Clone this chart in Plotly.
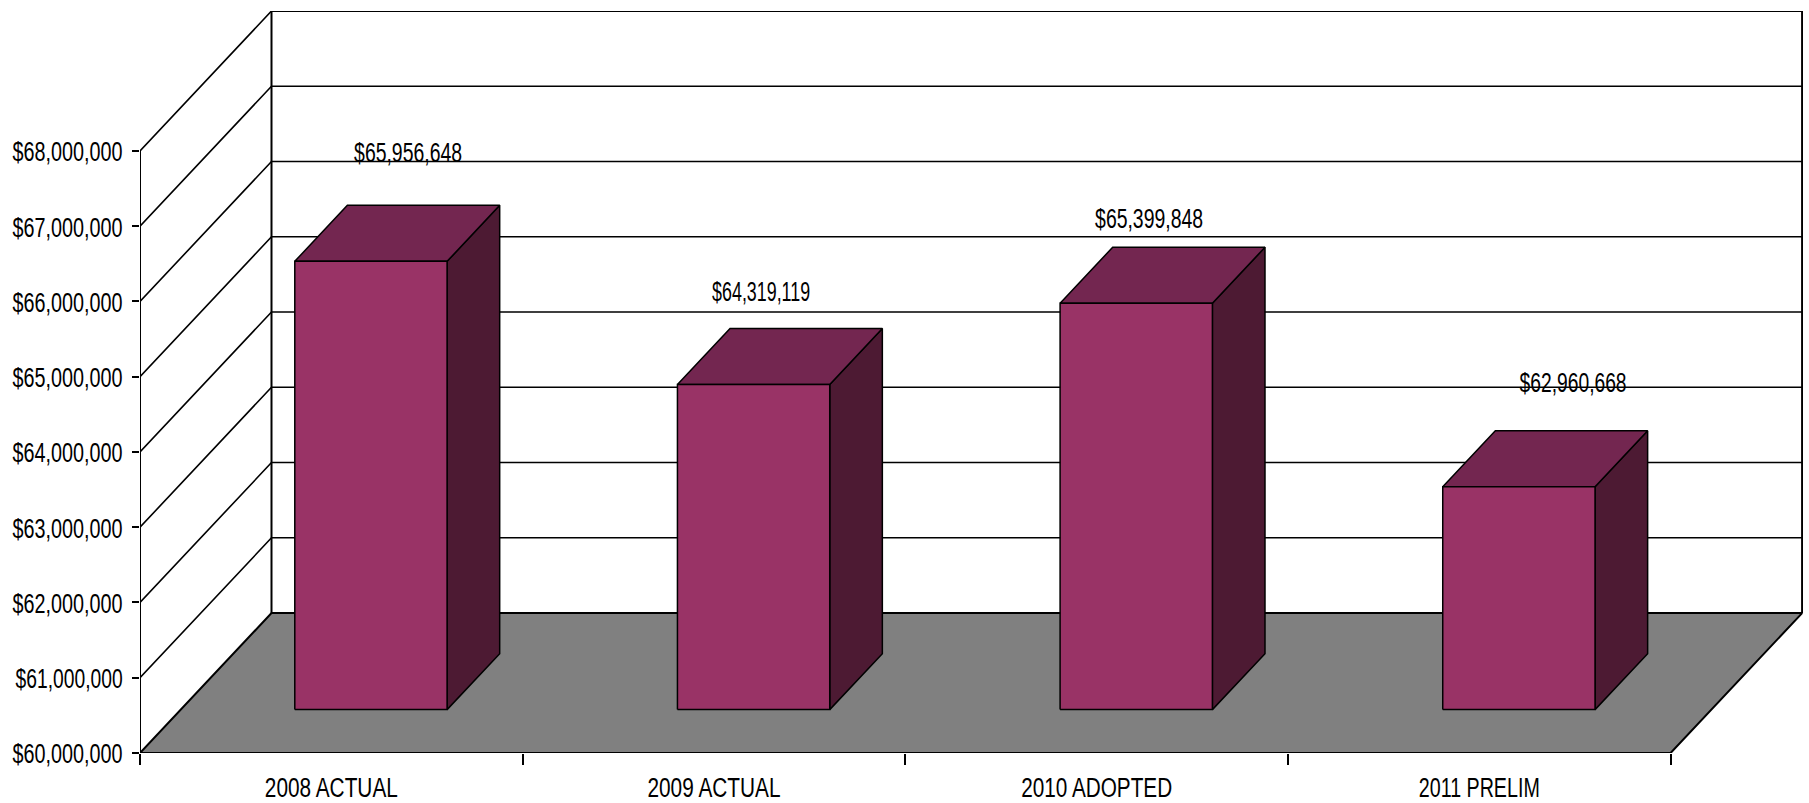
import json
import plotly.graph_objects as go

# ---- data ----
categories = ["2008 ACTUAL", "2009 ACTUAL", "2010 ADOPTED", "2011 PRELIM"]
values = [65956648, 64319119, 65399848, 62960668]
y_ticks = [60000000, 61000000, 62000000, 63000000, 64000000, 65000000, 66000000, 67000000, 68000000]

# ---- style / layout ----
W, H = 1809, 803
FONT = "Liberation Sans, Arial, sans-serif"
FRONT, TOP, SIDE = "#993366", "#732650", "#4D1A33"
FLOOR = "#808080"
PX_L, PX_R, PX_T, PX_B = 140, 1803, 11, 753.4
PX_CAT = (1670.6 - PX_L) / 4            # px per category
PX_VAL = (PX_B - 151) / 8e6             # px per dollar
DEPTH_X = 131.5 / PX_CAT                # oblique depth in x-axis units
DEPTH_Y = 140 / PX_VAL                  # oblique depth in y-axis units
BAR_W = 0.398
BAR_CENTRE = 0.497
BAR_D0, BAR_D1 = 0.31, 0.71
Y0, Y1 = y_ticks[0], y_ticks[-1]
NCAT = len(categories)
# hand-placed data labels in the source: shift from the bar's top-front centre (px)
LABEL_SHIFT = [(37, 108), (7, 93), (13, 84), (54, 104)]
# The source text is horizontally squeezed: rendered width per string (px)
TEXT_WIDTHS = {f"${t:,.0f}": 110 for t in y_ticks}
TEXT_WIDTHS["$61,000,000"] = 107
TEXT_WIDTHS.update({"$65,956,648": 108, "$64,319,119": 98, "$65,399,848": 108, "$62,960,668": 107,
                    "2008 ACTUAL": 133, "2009 ACTUAL": 133, "2010 ADOPTED": 151, "2011 PRELIM": 121})


def proj(x, v, d):
    """Oblique projection: category position, dollar value, depth fraction."""
    return x + d * DEPTH_X, v + d * DEPTH_Y


def poly(points, fill=None, color="black", width=1.5):
    xs, ys = zip(*points)
    return go.Scatter(
        x=list(xs), y=list(ys), mode="lines", hoverinfo="skip", showlegend=False, cliponaxis=False,
        line=dict(color=color, width=width),
        fill="toself" if fill else None, fillcolor=fill,
    )


fig = go.Figure()

# floor
fig.add_trace(poly([proj(0, Y0, 0), proj(NCAT, Y0, 0), proj(NCAT, Y0, 1), proj(0, Y0, 1), proj(0, Y0, 0)],
                   fill=FLOOR, width=2))
# grid lines on side wall and back wall
for t in y_ticks[1:]:
    fig.add_trace(poly([proj(0, t, 0), proj(0, t, 1), proj(NCAT, t, 1)], width=1.6))
# walls
fig.add_trace(poly([proj(0, Y0, 0), proj(0, Y1, 0)], width=2))
fig.add_trace(poly([proj(0, Y0, 1), proj(0, Y1, 1), proj(NCAT, Y1, 1), proj(NCAT, Y0, 1)], width=2))

# bars
annotations = []
for i, (name, v) in enumerate(zip(categories, values)):
    x0 = i + BAR_CENTRE - BAR_W / 2
    x1 = x0 + BAR_W
    d0, d1 = BAR_D0, BAR_D1
    fig.add_trace(poly([proj(x1, Y0, d0), proj(x1, Y0, d1), proj(x1, v, d1), proj(x1, v, d0), proj(x1, Y0, d0)], fill=SIDE))
    fig.add_trace(poly([proj(x0, v, d0), proj(x1, v, d0), proj(x1, v, d1), proj(x0, v, d1), proj(x0, v, d0)], fill=TOP))
    fig.add_trace(poly([proj(x0, Y0, d0), proj(x1, Y0, d0), proj(x1, v, d0), proj(x0, v, d0), proj(x0, Y0, d0)], fill=FRONT))
    cx, cy = proj(i + BAR_CENTRE, v, d0)
    sx, sy = LABEL_SHIFT[i]
    annotations.append(dict(x=cx, y=cy, xref="x", yref="y", text=f"${v:,.0f}", showarrow=False,
                            xshift=sx, yshift=sy, xanchor="center", yanchor="middle",
                            font=dict(family=FONT, size=27, color="black")))

fig.update_layout(
    width=W, height=H, autosize=False,
    margin=dict(l=PX_L, r=W - PX_R, t=PX_T, b=H - PX_B, pad=0),
    paper_bgcolor="white", plot_bgcolor="white",
    showlegend=False, hovermode=False,
    annotations=annotations,
    xaxis=dict(
        range=[0, (PX_R - PX_L) / PX_CAT], showgrid=False, zeroline=False, showline=False, automargin=False,
        tickvals=[i + 0.5 for i in range(NCAT)], ticktext=categories, ticks="", ticklabelstandoff=16,
        minor=dict(tickvals=list(range(NCAT + 1)), ticks="outside", ticklen=11, tickwidth=1.5, tickcolor="black", showgrid=False),
        tickfont=dict(family=FONT, size=27, color="black"),
    ),
    yaxis=dict(
        range=[Y0, Y0 + (PX_B - PX_T) / PX_VAL], showgrid=False, zeroline=False, showline=False, automargin=False,
        tickvals=y_ticks, ticktext=[f"${t:,.0f}" for t in y_ticks],
        ticks="outside", ticklen=7, tickwidth=1.5, tickcolor="black", ticklabelstandoff=4, ticklabelshift=1,
        tickfont=dict(family=FONT, size=27, color="black"),
    ),
)

post = """
document.body.style.margin = '0';
var widths = %s;
document.querySelectorAll('.xtick text, .ytick text, .annotation-text').forEach(function (el) {
  var w = widths[el.textContent.trim()];
  if (w) { el.setAttribute('lengthAdjust', 'spacingAndGlyphs'); el.setAttribute('textLength', w); }
});
""" % json.dumps(TEXT_WIDTHS)

fig.write_html("out.html", config={"displayModeBar": False}, post_script=post)
